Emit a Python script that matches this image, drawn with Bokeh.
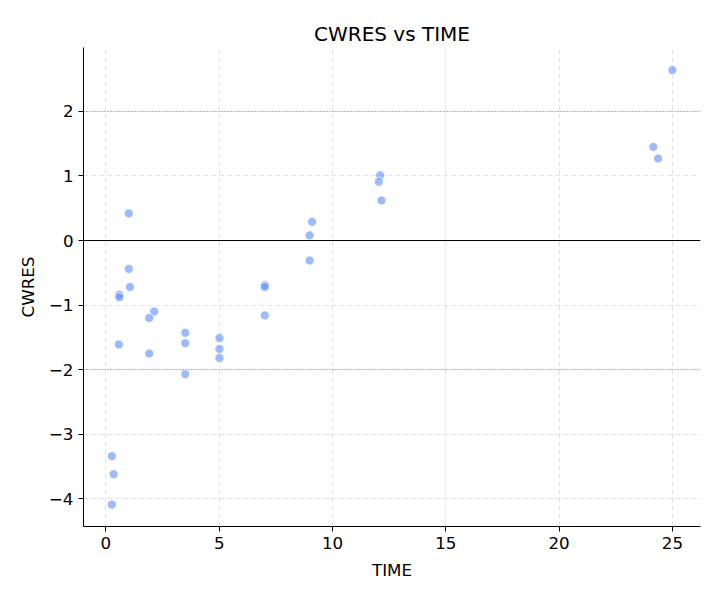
from bokeh.plotting import figure
from bokeh.models import Span, Range1d, FixedTicker
from bokeh.embed import file_html
from bokeh.resources import INLINE

time = [1.01, 1.01, 1.06, 0.59, 0.59, 2.13, 1.91, 0.57, 1.91, 3.5, 3.5, 3.5,
        5.01, 5.01, 5.01, 7.01, 7.01, 7.01, 0.26, 0.34, 0.26,
        12.1, 12.04, 12.16, 9.10, 8.99, 8.99, 25.0, 24.16, 24.37]
cwres = [0.42, -0.44, -0.72, -0.84, -0.88, -1.10, -1.20, -1.61, -1.75, -1.43, -1.59, -2.07,
         -1.51, -1.68, -1.82, -0.69, -0.72, -1.16, -3.34, -3.62, -4.09,
         1.01, 0.91, 0.62, 0.29, 0.08, -0.31, 2.64, 1.45, 1.27]
x_ticks = [0, 5, 10, 15, 20, 25]
y_ticks = [-4, -3, -2, -1, 0, 1, 2]
ref_lines = [-2, 2]

FONT = "DejaVu Sans"

p = figure(width=720, height=600, output_backend="svg", toolbar_location=None,
           title="CWRES vs TIME",
           x_range=Range1d(-0.99, 26.24), y_range=Range1d(-4.43, 2.99),
           min_border_left=83, min_border_right=20, min_border_top=47, min_border_bottom=74)

p.title.align = "center"
p.title.text_font = FONT
p.title.text_font_size = "20px"
p.title.text_font_style = "normal"
p.title.text_color = "black"
p.title.standoff = 4

p.outline_line_color = None
p.background_fill_color = "white"
p.border_fill_color = "white"

for ax in (p.xaxis[0], p.yaxis[0]):
    ax.axis_line_color = "black"
    ax.axis_line_width = 1
    ax.major_tick_out = 5
    ax.major_tick_in = 0
    ax.minor_tick_line_color = None
    ax.major_label_text_font = FONT
    ax.major_label_text_font_size = "16.7px"
    ax.major_label_text_color = "black"
    ax.major_label_standoff = 5
    ax.axis_label_text_font = FONT
    ax.axis_label_text_font_size = "16.7px"
    ax.axis_label_text_font_style = "normal"
    ax.axis_label_text_color = "black"
    ax.axis_label_standoff = 8

p.xaxis.ticker = FixedTicker(ticks=x_ticks)
p.yaxis.ticker = FixedTicker(ticks=y_ticks)
p.xaxis.axis_label = "TIME"
p.yaxis.axis_label = "CWRES"
p.yaxis.major_label_orientation = "horizontal"

for g in (p.xgrid[0], p.ygrid[0]):
    g.grid_line_color = "#b0b0b0"
    g.grid_line_alpha = 0.35
    g.grid_line_dash = "5 3"
    g.grid_line_width = 1

p.add_layout(Span(location=0, dimension="width", line_color="black", line_width=1))
for r in ref_lines:
    p.add_layout(Span(location=r, dimension="width", line_color="gray",
                      line_width=1, line_dash="1 2"))

p.scatter(time, cwres, size=9, fill_color="#5b8df6", fill_alpha=0.6,
          line_color="white", line_width=0.75)

open("out.html", "w").write(file_html(p, INLINE))
